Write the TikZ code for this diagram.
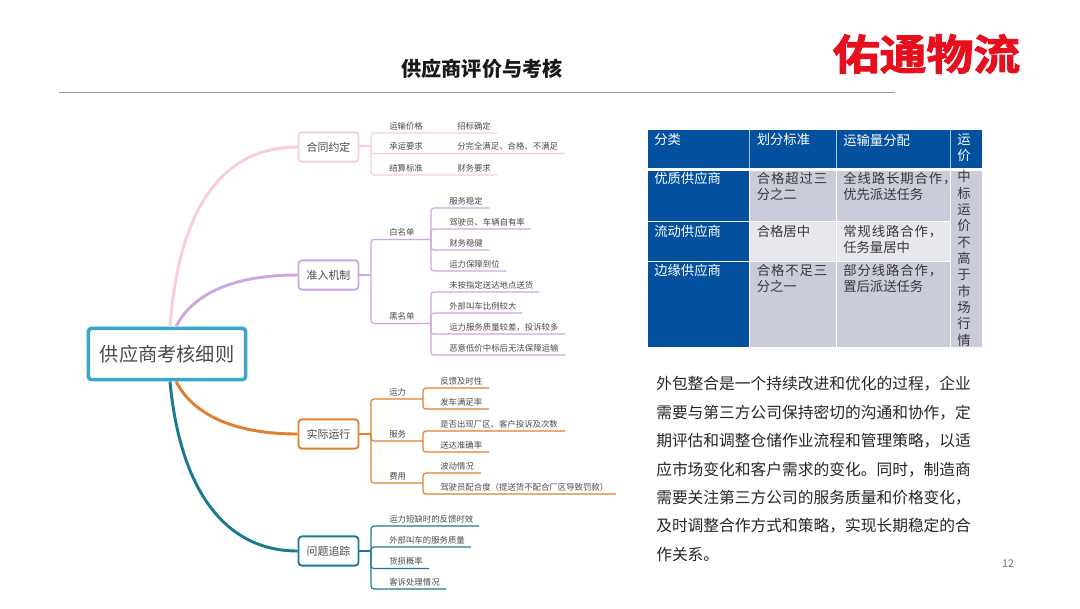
\documentclass[tikz,border=0pt]{standalone}
\usepackage{fontspec}
\setmainfont{Noto Sans CJK SC}
\newfontfamily\spacedfont[LetterSpace=7]{Noto Sans CJK SC}
\newfontfamily\logofont[FakeBold=2.2]{Noto Sans CJK SC Bold}
\definecolor{cpink}{HTML}{F9CFD4}
\definecolor{cpurple}{HTML}{CFA6E4}
\definecolor{corange}{HTML}{E07F2C}
\definecolor{cteal}{HTML}{1A7A92}
\definecolor{ccyan}{HTML}{3BA7C9}
\definecolor{ctext}{HTML}{4A4A4A}
\definecolor{tblue}{HTML}{03509E}
\definecolor{tgray}{HTML}{CBCCDA}
\definecolor{tlight}{HTML}{E7E8EE}
\definecolor{tedge}{HTML}{A9C8E8}
\definecolor{logored}{HTML}{E60F1E}
\tikzset{
  leaf/.style={anchor=west,inner sep=0pt,text=ctext,font=\fontsize{6.3}{7}\selectfont},
  branch/.style={draw=#1,fill=white,line width=1.4pt,rounded corners=2.6pt,minimum width=45pt,minimum height=22pt,inner sep=0pt,text=ctext,font=\fontsize{8.2}{10}\selectfont},
  twigline/.style={draw=#1,line width=0.9pt,rounded corners=2.2pt},
  trunk/.style={draw=#1,line width=2.2pt},
  cellhead/.style={anchor=north west,inner sep=0pt,align=left,text=white,font=\fontsize{10}{12.5}\selectfont},
  cellbody/.style={anchor=north west,inner sep=0pt,align=left,text=black!78,font=\fontsize{10}{12.5}\selectfont},
}
% colour, parent, name, text x, line y, line end x, text
\newcommand{\twig}[7]{%
  \node[leaf] (#3) at (#4,#5-7) {#7};
  \coordinate (#3e) at (#6,#5);
  \draw[twigline=#1] (#2) |- (#3e);
}
\newcommand{\tcell}[5]{\fill[#5] (#1,#2) rectangle (#3,#4);}
\begin{document}
\begin{tikzpicture}[x=0.75pt,y=-0.75pt]
\useasboundingbox (0,0) rectangle (1080,608);
\fill[white] (0,0) rectangle (1080,608);

% title and logo
\node[inner sep=0pt,font=\fontsize{15.1}{18}\selectfont\bfseries,text=black!90] (title) at (482,69) {供应商评价与考核};
\coordinate (ruleL) at (59,92);
\coordinate (ruleR) at (895,92);
\draw[black!40,line width=0.6pt] (ruleL) -- (ruleR);
\node[inner sep=0pt,font=\fontsize{31.5}{38}\logofont,text=logored] (logo) at (926.5,54) {\scalebox{1.115}[1]{佑通物流}};

% central node and branches
\node[draw=ccyan,fill=white,line width=2.7pt,rounded corners=2.5pt,minimum width=118pt,minimum height=38.5pt,inner sep=0pt,text=ctext,font=\fontsize{14.4}{17}\selectfont] (ctr) at (167,354) {供应商考核细则};
\node[branch=cpink] (b1) at (328.5,147) {合同约定};
\node[branch=cpurple] (b2) at (328.5,275) {准入机制};
\node[branch=corange] (b3) at (328.5,434) {实际运行};
\node[branch=cteal] (b4) at (328.5,551) {问题追踪};

\draw[trunk=cpink] ([xshift=2.25pt]ctr.north) .. controls (178,220) and (215,147) .. (b1.west);
\draw[trunk=cpurple] ([xshift=6.75pt]ctr.north) .. controls (195,290) and (240,275) .. (b2.west);
\draw[trunk=corange] ([xshift=6.75pt]ctr.south) .. controls (195,418) and (240,434) .. (b3.west);
\draw[trunk=cteal] ([xshift=2.25pt]ctr.south) .. controls (180,490) and (225,551) .. (b4.west);

% branch 1
\coordinate (j1) at (371,146);
\draw[twigline=cpink] (b1.east |- j1) -- (j1);
\twig{cpink}{j1}{a1}{389}{133}{497}{运输价格}
\twig{cpink}{j1}{a2}{389}{153.5}{565}{承运要求}
\twig{cpink}{j1}{a3}{389}{175}{497}{结算标准}
\node[leaf] (a1x) at (457,126) {招标确定};
\node[leaf] (a2x) at (457,146.5) {分完全满足、合格、不满足};
\node[leaf] (a3x) at (457,168) {财务要求};

% branch 2
\coordinate (j2) at (371,275);
\draw[twigline=cpurple] (b2.east) -- (j2);
\twig{cpurple}{j2}{w}{389}{239.5}{431}{白名单}
\twig{cpurple}{j2}{k}{389}{323.5}{431}{黑名单}
\twig{cpurple}{we}{w1}{449}{208}{489}{服务稳定}
\twig{cpurple}{we}{w2}{449}{229}{531}{驾驶员、车辆自有率}
\twig{cpurple}{we}{w3}{449}{250}{489}{财务稳健}
\twig{cpurple}{we}{w4}{449}{271}{506}{运力保障到位}
\twig{cpurple}{ke}{k1}{449}{292}{539}{未按指定送达地点送货}
\twig{cpurple}{ke}{k2}{449}{313}{522}{外部叫车比例较大}
\twig{cpurple}{ke}{k3}{449}{334}{565}{运力服务质量较差，投诉较多}
\twig{cpurple}{ke}{k4}{449}{355}{565}{恶意低价中标后无法保障运输}

% branch 3
\coordinate (j3) at (371,434);
\draw[twigline=corange] (b3.east) -- (j3);
\twig{corange}{j3}{y}{389}{399}{423}{运力}
\twig{corange}{j3}{s}{389}{441}{423}{服务}
\twig{corange}{j3}{f}{389}{483}{423}{费用}
\twig{corange}{ye}{y1}{440}{388}{489}{反馈及时性}
\twig{corange}{ye}{y2}{440}{409}{489}{发车满足率}
\twig{corange}{se}{s1}{440}{431}{565}{是否出现厂区、客户投诉及次数}
\twig{corange}{se}{s2}{440}{452}{489}{送达准确率}
\twig{corange}{fe}{f1}{440}{473}{481}{波动情况}
\twig{corange}{fe}{f2}{440}{494}{616}{驾驶员配合度（提送货不配合厂区导致罚款）}

% branch 4
\coordinate (j4) at (371,551);
\draw[twigline=cteal] (b4.east) -- (j4);
\twig{cteal}{j4}{q1}{389}{526}{479}{运力短缺时的反馈时效}
\twig{cteal}{j4}{q2}{389}{547}{471}{外部叫车的服务质量}
\twig{cteal}{j4}{q3}{389}{568.5}{429}{货损概率}
\twig{cteal}{j4}{q4}{389}{589}{446}{客诉处理情况}

% table
\tcell{648.3}{130}{981.7}{168.3}{tblue}
\tcell{648.3}{171}{749.7}{347.3}{tblue}
\tcell{749.7}{171}{981.7}{221}{tgray}
\tcell{749.7}{221}{950}{261}{tlight}
\tcell{749.7}{261}{981.7}{347.3}{tgray}
\tcell{950}{171}{981.7}{347.3}{tgray}
\draw[tedge,line width=0.75pt] (749.7,130) -- (749.7,168.3) (836.7,130) -- (836.7,168.3) (950,130) -- (950,168.3);
\draw[white,line width=0.75pt] (749.7,171) -- (749.7,347.3) (836.7,171) -- (836.7,347.3) (950,171) -- (950,347.3)
  (648.3,221) -- (950,221) (648.3,261) -- (950,261);

\node[cellhead] (h1) at (654,133.5) {分类};
\node[cellhead] (h2) at (756.5,133.5) {划分标准};
\node[cellhead] (h3) at (843,133.5) {运输量分配};
\node[cellhead,font=\fontsize{10}{12}\selectfont] (h4) at (957,133.5) {运\\价};
\node[cellhead] (r1) at (654,171.5) {优质供应商};
\node[cellhead] (r2) at (654,224.5) {流动供应商};
\node[cellhead] (r3) at (654,263.5) {边缘供应商};
\node[cellbody] (c11) at (756.5,171.5) {{\spacedfont 合格超过三}\\分之二};
\node[cellbody] (c12) at (843,171.5) {{\spacedfont 全线路长期合作，}\\优先派送任务};
\node[cellbody] (c21) at (756.5,224.5) {合格居中};
\node[cellbody] (c22) at (843,224.5) {{\spacedfont 常规线路合作，}\\任务量居中};
\node[cellbody] (c31) at (756.5,263.5) {{\spacedfont 合格不足三}\\分之一};
\node[cellbody] (c32) at (843,263.5) {{\spacedfont 部分线路合作，}\\置后派送任务};
\node[cellbody,font=\fontsize{10}{12.25}\selectfont] (c4) at (957,170.5) {中\\标\\运\\价\\不\\高\\于\\市\\场\\行\\情};

% paragraph
\node[anchor=north west,inner sep=0pt,align=left,text=black!85,font=\fontsize{11.8}{21.35}\selectfont] (para) at (656,376) {外包整合是一个持续改进和优化的过程，企业\\需要与第三方公司保持密切的沟通和协作，定\\期评估和调整仓储作业流程和管理策略，以适\\应市场变化和客户需求的变化。同时，制造商\\需要关注第三方公司的服务质量和价格变化，\\及时调整合作方式和策略，实现长期稳定的合\\作关系。};

\node[inner sep=0pt,text=black!55,font=\fontsize{8}{10}\selectfont] (pg) at (1008,564) {12};
\end{tikzpicture}
\end{document}
